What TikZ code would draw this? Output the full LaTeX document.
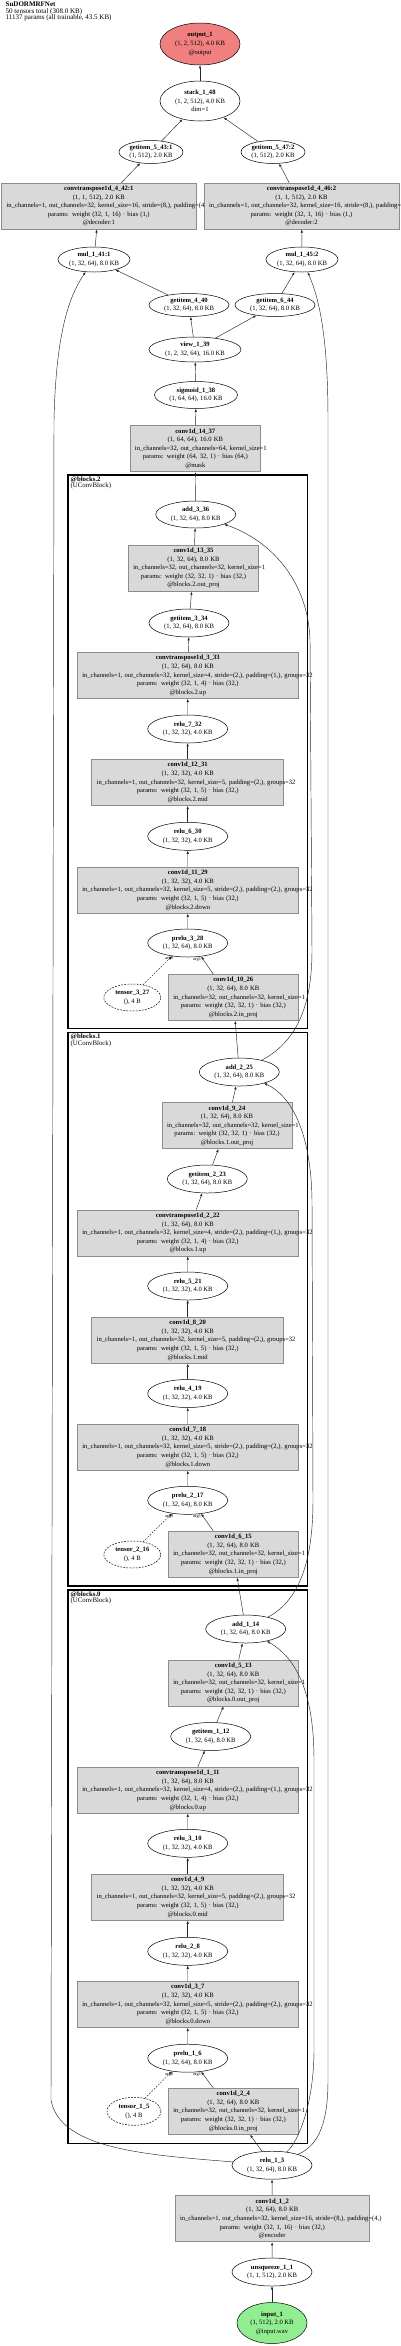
\documentclass[tikz,border=0pt]{standalone}
\usepackage{fontspec}
\setmainfont{Liberation Serif}
\usepackage{xcolor}
\usetikzlibrary{arrows.meta, shapes.geometric}

\definecolor{boxfill}{HTML}{D9D9D9}
\definecolor{boxline}{HTML}{8C8C8C}
\definecolor{outfill}{HTML}{F08080}
\definecolor{infill}{HTML}{90EE90}

\newcommand{\ovl}[1]{\makebox[\linewidth][l]{#1}}

\begin{document}
\begin{tikzpicture}[
    x=1pt, y=-1pt,
    every node/.style={font=\fontsize{6.6}{8.6}\selectfont},
    tensorop/.style={
        ellipse,
        draw=black,
        line width=0.5pt,
        inner sep=0pt,
        minimum width=80pt,
        minimum height=28pt,
        align=center
    },
    constant/.style={
        tensorop,
        dash pattern=on 1.8pt off 1.3pt,
        minimum width=57pt,
        minimum height=27pt
    },
    module/.style={
        rectangle,
        draw=boxline,
        fill=boxfill,
        line width=0.7pt,
        inner xsep=5pt,
        inner ysep=0pt,
        minimum height=46pt,
        text width=#1,
        align=center
    },
    cluster/.style={draw=black, line width=1.6pt},
    clusterlabel/.style={
        anchor=north west,
        inner sep=0pt,
        align=left,
        font=\fontsize{6.8}{6.4}\selectfont
    },
    flow/.style={-{Latex[length=3.2pt,width=2.4pt]}, line width=0.45pt, draw=black!85},
    argl/.style={font=\fontsize{4.5}{5}\selectfont, inner sep=0.5pt}
]
\useasboundingbox (0,0) rectangle (400,2346);

\node (title) [anchor=north west, inner sep=0pt, align=left,
    font=\fontsize{7}{6.5}\selectfont] at (5.5,2)
    {\textbf{SuDORMRFNet}\\50 tensors total (308.0 KB)\\11137 params (all trainable, 43.5 KB)};

% Blocks
\draw[cluster] (67.7,475) rectangle (307.3,1028.3);
\node (lbl2) [clusterlabel] at (70.5,476.5) {\textbf{@blocks.2}\\(UConvBlock)};
\draw[cluster] (67.7,1032.3) rectangle (307.3,1586);
\node (lbl1) [clusterlabel] at (70.5,1033.8) {\textbf{@blocks.1}\\(UConvBlock)};
\draw[cluster] (67.7,1590) rectangle (307.3,2143.3);
\node (lbl0) [clusterlabel] at (70.5,1591.5) {\textbf{@blocks.0}\\(UConvBlock)};

% Head
\node (output) [tensorop, fill=outfill, minimum height=42pt] at (200,44)
    {\textbf{output\_1}\\(1, 2, 512), 4.0 KB\\@output};
\node (stack48) [tensorop, minimum height=40pt] at (200,101)
    {\textbf{stack\_1\_48}\\(1, 2, 512), 4.0 KB\\dim=1};
\node (getitem43) [tensorop, minimum width=64pt, minimum height=23pt] at (151,152)
    {\textbf{getitem\_5\_43:1}\\(1, 512), 2.0 KB};
\node (getitem47) [tensorop, minimum width=64pt, minimum height=23pt] at (273,152)
    {\textbf{getitem\_5\_47:2}\\(1, 512), 2.0 KB};
\node (convt42) [module=184.3pt] at (98.8,206)
    {\textbf{convtranspose1d\_4\_42:1}\\(1, 1, 512), 2.0 KB\\
     \ovl{in\_channels=1, out\_channels=32, kernel\_size=16, stride=(8,), padding=(4,)}\\
     params: weight (32, 1, 16) · bias (1,)\\@decoder:1};
\node (convt46) [module=185pt] at (301.5,206)
    {\textbf{convtranspose1d\_4\_46:2}\\(1, 1, 512), 2.0 KB\\
     \ovl{in\_channels=1, out\_channels=32, kernel\_size=16, stride=(8,), padding=(4,)}\\
     params: weight (32, 1, 16) · bias (1,)\\@decoder:2};
\node (mul41) [tensorop, minimum width=72pt, minimum height=25pt] at (94,259.5)
    {\textbf{mul\_1\_41:1}\\(1, 32, 64), 8.0 KB};
\node (mul45) [tensorop, minimum width=72pt, minimum height=25pt] at (302,259.5)
    {\textbf{mul\_1\_45:2}\\(1, 32, 64), 8.0 KB};
\node (getitem40) [tensorop, minimum height=23pt] at (189,305)
    {\textbf{getitem\_4\_40}\\(1, 32, 64), 8.0 KB};
\node (getitem44) [tensorop, minimum height=23pt] at (275,305)
    {\textbf{getitem\_6\_44}\\(1, 32, 64), 8.0 KB};
\node (view39) [tensorop, minimum width=92pt, minimum height=25pt] at (195,349.5)
    {\textbf{view\_1\_39}\\(1, 2, 32, 64), 16.0 KB};
\node (sigmoid38) [tensorop, minimum width=83pt, minimum height=27pt] at (196,395)
    {\textbf{sigmoid\_1\_38}\\(1, 64, 64), 16.0 KB};
\node (conv37) [module=120.7pt] at (195.3,448.7)
    {\textbf{conv1d\_14\_37}\\(1, 64, 64), 16.0 KB\\
     \ovl{in\_channels=32, out\_channels=64, kernel\_size=1}\\
     params: weight (64, 32, 1) · bias (64,)\\@mask};

% blocks.2
\node (add36) [tensorop, minimum height=27pt] at (195.7,514.5)
    {\textbf{add\_3\_36}\\(1, 32, 64), 8.0 KB};
\node (conv35) [module=120.4pt] at (193.5,568.2)
    {\textbf{conv1d\_13\_35}\\(1, 32, 64), 8.0 KB\\
     \ovl{in\_channels=32, out\_channels=32, kernel\_size=1}\\
     params: weight (32, 32, 1) · bias (32,)\\@blocks.2.out\_proj};
\node (getitem34) [tensorop] at (189,623)
    {\textbf{getitem\_3\_34}\\(1, 32, 64), 8.0 KB};
\node (convt33) [module=211pt] at (187.8,675.5)
    {\textbf{convtranspose1d\_3\_33}\\(1, 32, 64), 8.0 KB\\
     \ovl{in\_channels=1, out\_channels=32, kernel\_size=4, stride=(2,), padding=(1,), groups=32}\\
     params: weight (32, 1, 4) · bias (32,)\\@blocks.2.up};
\node (relu32) [tensorop] at (187.7,729)
    {\textbf{relu\_7\_32}\\(1, 32, 32), 4.0 KB};
\node (conv31) [module=182pt] at (187.7,782.5)
    {\textbf{conv1d\_12\_31}\\(1, 32, 32), 4.0 KB\\
     \ovl{in\_channels=1, out\_channels=32, kernel\_size=5, padding=(2,), groups=32}\\
     params: weight (32, 1, 5) · bias (32,)\\@blocks.2.mid};
\node (relu30) [tensorop] at (187.7,836.3)
    {\textbf{relu\_6\_30}\\(1, 32, 32), 4.0 KB};
\node (conv29) [module=211pt] at (187.8,890.3)
    {\textbf{conv1d\_11\_29}\\(1, 32, 32), 4.0 KB\\
     \ovl{in\_channels=1, out\_channels=32, kernel\_size=5, stride=(2,), padding=(2,), groups=32}\\
     params: weight (32, 1, 5) · bias (32,)\\@blocks.2.down};
\node (prelu28) [tensorop] at (187.7,943)
    {\textbf{prelu\_3\_28}\\(1, 32, 64), 8.0 KB};
\node (tensor27) [constant] at (132.3,997.5)
    {\textbf{tensor\_3\_27}\\(), 4 B};
\node (conv26) [module=120pt] at (233.3,997.5)
    {\textbf{conv1d\_10\_26}\\(1, 32, 64), 8.0 KB\\
     \ovl{in\_channels=32, out\_channels=32, kernel\_size=1}\\
     params: weight (32, 32, 1) · bias (32,)\\@blocks.2.in\_proj};

% blocks.1
\node (add25) [tensorop] at (239.3,1072)
    {\textbf{add\_2\_25}\\(1, 32, 64), 8.0 KB};
\node (conv24) [module=120pt] at (227,1125.7)
    {\textbf{conv1d\_9\_24}\\(1, 32, 64), 8.0 KB\\
     \ovl{in\_channels=32, out\_channels=32, kernel\_size=1}\\
     params: weight (32, 32, 1) · bias (32,)\\@blocks.1.out\_proj};
\node (getitem23) [tensorop] at (207.3,1179)
    {\textbf{getitem\_2\_23}\\(1, 32, 64), 8.0 KB};
\node (convt22) [module=211pt] at (187.8,1233)
    {\textbf{convtranspose1d\_2\_22}\\(1, 32, 64), 8.0 KB\\
     \ovl{in\_channels=1, out\_channels=32, kernel\_size=4, stride=(2,), padding=(1,), groups=32}\\
     params: weight (32, 1, 4) · bias (32,)\\@blocks.1.up};
\node (relu21) [tensorop] at (187.7,1286)
    {\textbf{relu\_5\_21}\\(1, 32, 32), 4.0 KB};
\node (conv20) [module=182pt] at (187.7,1340.3)
    {\textbf{conv1d\_8\_20}\\(1, 32, 32), 4.0 KB\\
     \ovl{in\_channels=1, out\_channels=32, kernel\_size=5, padding=(2,), groups=32}\\
     params: weight (32, 1, 5) · bias (32,)\\@blocks.1.mid};
\node (relu19) [tensorop] at (187.7,1393.5)
    {\textbf{relu\_4\_19}\\(1, 32, 32), 4.0 KB};
\node (conv18) [module=211pt] at (187.8,1447.3)
    {\textbf{conv1d\_7\_18}\\(1, 32, 32), 4.0 KB\\
     \ovl{in\_channels=1, out\_channels=32, kernel\_size=5, stride=(2,), padding=(2,), groups=32}\\
     params: weight (32, 1, 5) · bias (32,)\\@blocks.1.down};
\node (prelu17) [tensorop] at (187.7,1500.3)
    {\textbf{prelu\_2\_17}\\(1, 32, 64), 8.0 KB};
\node (tensor16) [constant] at (132.3,1554.5)
    {\textbf{tensor\_2\_16}\\(), 4 B};
\node (conv15) [module=120pt] at (233.3,1554.3)
    {\textbf{conv1d\_6\_15}\\(1, 32, 64), 8.0 KB\\
     \ovl{in\_channels=32, out\_channels=32, kernel\_size=1}\\
     params: weight (32, 32, 1) · bias (32,)\\@blocks.1.in\_proj};

% blocks.0
\node (add14) [tensorop] at (245.7,1629)
    {\textbf{add\_1\_14}\\(1, 32, 64), 8.0 KB};
\node (conv13) [module=120pt] at (233.3,1683)
    {\textbf{conv1d\_5\_13}\\(1, 32, 64), 8.0 KB\\
     \ovl{in\_channels=32, out\_channels=32, kernel\_size=1}\\
     params: weight (32, 32, 1) · bias (32,)\\@blocks.0.out\_proj};
\node (getitem12) [tensorop] at (210.7,1736.5)
    {\textbf{getitem\_1\_12}\\(1, 32, 64), 8.0 KB};
\node (convt11) [module=211pt] at (187.8,1790.3)
    {\textbf{convtranspose1d\_1\_11}\\(1, 32, 64), 8.0 KB\\
     \ovl{in\_channels=1, out\_channels=32, kernel\_size=4, stride=(2,), padding=(1,), groups=32}\\
     params: weight (32, 1, 4) · bias (32,)\\@blocks.0.up};
\node (relu10) [tensorop] at (187.7,1843.3)
    {\textbf{relu\_3\_10}\\(1, 32, 32), 4.0 KB};
\node (conv9) [module=182pt] at (187.7,1897.2)
    {\textbf{conv1d\_4\_9}\\(1, 32, 32), 4.0 KB\\
     \ovl{in\_channels=1, out\_channels=32, kernel\_size=5, padding=(2,), groups=32}\\
     params: weight (32, 1, 5) · bias (32,)\\@blocks.0.mid};
\node (relu8) [tensorop] at (187.7,1951.3)
    {\textbf{relu\_2\_8}\\(1, 32, 32), 4.0 KB};
\node (conv7) [module=211pt] at (187.8,2004.5)
    {\textbf{conv1d\_3\_7}\\(1, 32, 32), 4.0 KB\\
     \ovl{in\_channels=1, out\_channels=32, kernel\_size=5, stride=(2,), padding=(2,), groups=32}\\
     params: weight (32, 1, 5) · bias (32,)\\@blocks.0.down};
\node (prelu6) [tensorop] at (187.7,2058.2)
    {\textbf{prelu\_1\_6}\\(1, 32, 64), 8.0 KB};
\node (tensor5) [constant, minimum width=54pt, minimum height=28pt] at (134,2111.3)
    {\textbf{tensor\_1\_5}\\(), 4 B};
\node (conv4) [module=120pt] at (233.3,2111.3)
    {\textbf{conv1d\_2\_4}\\(1, 32, 64), 8.0 KB\\
     \ovl{in\_channels=32, out\_channels=32, kernel\_size=1}\\
     params: weight (32, 32, 1) · bias (32,)\\@blocks.0.in\_proj};

% Encoder
\node (relu3) [tensorop] at (272,2165.2)
    {\textbf{relu\_1\_3}\\(1, 32, 64), 8.0 KB};
\node (conv2) [module=184.3pt] at (272.2,2218.8)
    {\textbf{conv1d\_1\_2}\\(1, 32, 64), 8.0 KB\\
     \ovl{in\_channels=1, out\_channels=32, kernel\_size=16, stride=(8,), padding=(4,)}\\
     params: weight (32, 1, 16) · bias (32,)\\@encoder};
\node (unsqueeze1) [tensorop] at (272,2272)
    {\textbf{unsqueeze\_1\_1}\\(1, 1, 512), 2.0 KB};
\node (input) [tensorop, fill=infill, minimum width=70pt, minimum height=41pt] at (272,2323)
    {\textbf{input\_1}\\(1, 512), 2.0 KB\\@input.wav};

% Arrows
\draw[flow] (input) -- (unsqueeze1);
\draw[flow] (unsqueeze1) -- (conv2);
\draw[flow] (conv2) -- (relu3);
\draw[flow] (relu3) -- (conv4);
\draw[flow] (relu3) .. controls (300,2140) and (314,2100) .. (314,2050)
    -- (314,1760) .. controls (314,1700) and (300,1660) .. (add14);
\draw[flow] (relu3) .. controls (320,2145) and (328,2120) .. (328,2080)
    -- (328,420) .. controls (328,340) and (320,300) .. (mul45);
\draw[flow] (relu3) .. controls (150,2155) and (60,2150) .. (51,2100)
    -- (54,420) .. controls (56,330) and (70,295) .. (mul41);

\draw[flow, dash pattern=on 1.8pt off 1.3pt] (tensor5.50) -- node[argl, at end, below, xshift=-3pt] {arg0} (prelu6.-140);
\draw[flow] ([xshift=-20pt]conv4.north) -- node[argl, at end, below, xshift=-4pt] {arg1} (prelu6.-45);
\draw[flow] (prelu6) -- (conv7);
\draw[flow] (conv7) -- (relu8);
\draw[flow] (relu8) -- (conv9);
\draw[flow] (conv9) -- (relu10);
\draw[flow] (relu10) -- (convt11);
\draw[flow] (convt11) -- (getitem12);
\draw[flow] (getitem12) -- (conv13);
\draw[flow] (conv13) -- (add14);
\draw[flow] (add14) -- (conv15);
\draw[flow] (add14) .. controls (300,1600) and (313,1560) .. (313,1500)
    -- (312,1200) .. controls (311,1130) and (290,1095) .. (add25);

\draw[flow, dash pattern=on 1.8pt off 1.3pt] (tensor16.50) -- node[argl, at end, below, xshift=-3pt] {arg0} (prelu17.-140);
\draw[flow] ([xshift=-20pt]conv15.north) -- node[argl, at end, below, xshift=-4pt] {arg1} (prelu17.-45);
\draw[flow] (prelu17) -- (conv18);
\draw[flow] (conv18) -- (relu19);
\draw[flow] (relu19) -- (conv20);
\draw[flow] (conv20) -- (relu21);
\draw[flow] (relu21) -- (convt22);
\draw[flow] (convt22) -- (getitem23);
\draw[flow] (getitem23) -- (conv24);
\draw[flow] (conv24) -- (add25);
\draw[flow] (add25) -- (conv26);
\draw[flow] (add25) .. controls (300,1040) and (312,1000) .. (312,950)
    -- (310,640) .. controls (308,580) and (270,540) .. (add36);

\draw[flow, dash pattern=on 1.8pt off 1.3pt] (tensor27.50) -- node[argl, at end, below, xshift=-3pt] {arg0} (prelu28.-140);
\draw[flow] ([xshift=-20pt]conv26.north) -- node[argl, at end, below, xshift=-4pt] {arg1} (prelu28.-45);
\draw[flow] (prelu28) -- (conv29);
\draw[flow] (conv29) -- (relu30);
\draw[flow] (relu30) -- (conv31);
\draw[flow] (conv31) -- (relu32);
\draw[flow] (relu32) -- (convt33);
\draw[flow] (convt33) -- (getitem34);
\draw[flow] (getitem34) -- (conv35);
\draw[flow] (conv35) -- (add36);
\draw[flow] (add36) -- (conv37);

\draw[flow] (conv37) -- (sigmoid38);
\draw[flow] (sigmoid38) -- (view39);
\draw[flow] (view39) -- (getitem40);
\draw[flow] (view39) -- (getitem44);
\draw[flow] (getitem40) -- (mul41);
\draw[flow] (getitem44) -- (mul45);
\draw[flow] (mul41) -- (convt42);
\draw[flow] (mul45) -- (convt46);
\draw[flow] (convt42) -- (getitem43);
\draw[flow] (convt46) -- (getitem47);
\draw[flow] (getitem43) -- (stack48);
\draw[flow] (getitem47) -- (stack48);
\draw[flow] (stack48) -- (output);

\end{tikzpicture}
\end{document}
